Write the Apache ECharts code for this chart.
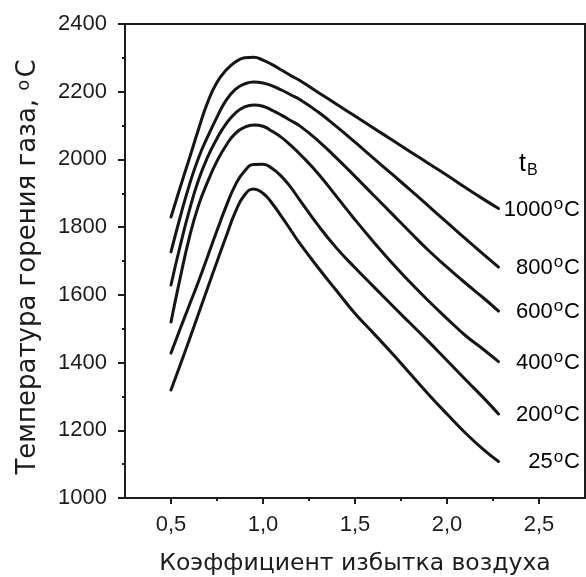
<!DOCTYPE html>
<html><head><meta charset="utf-8">
<script src="https://cdn.jsdelivr.net/npm/echarts@6/dist/echarts.min.js"></script>
<style>html,body{margin:0;padding:0;background:#fff}#c{width:586px;height:577px}</style>
</head><body><div id="c"></div>
<script>
// Air-excess coefficient (x values shared by every curve)
const xs = [0.5, 0.55, 0.6, 0.65, 0.7, 0.75, 0.8, 0.85, 0.9, 0.95, 1.0, 1.05, 1.1, 1.15, 1.2,
            1.3, 1.4, 1.5, 1.6, 1.7, 1.8, 1.9, 2.0, 2.1, 2.2, 2.28];
// Gas combustion temperature, °C, for each air preheat temperature t_B
const t1000 = [1830, 1918, 2003, 2090, 2170, 2228, 2264, 2288, 2300, 2302, 2293, 2280, 2264, 2248, 2233,
               2198, 2163, 2128, 2093, 2058, 2023, 1988, 1953, 1917, 1882, 1855];
const t800  = [1727, 1830, 1925, 2005, 2068, 2125, 2175, 2207, 2223, 2229, 2226, 2217, 2205, 2191, 2177,
               2140, 2097, 2051, 2004, 1957, 1910, 1862, 1814, 1766, 1719, 1682];
const t600  = [1629, 1745, 1850, 1940, 2008, 2062, 2106, 2137, 2155, 2161, 2157, 2145, 2131, 2115, 2099,
               2055, 2004, 1950, 1895, 1840, 1785, 1731, 1682, 1635, 1590, 1552];
const t400  = [1520, 1650, 1770, 1865, 1935, 1995, 2042, 2077, 2095, 2102, 2098, 2083, 2065, 2042, 2016,
               1958, 1890, 1822, 1757, 1695, 1637, 1582, 1530, 1480, 1438, 1403];
const t200  = [1428, 1500, 1570, 1640, 1715, 1790, 1862, 1925, 1966, 1985, 1986, 1973, 1950, 1918, 1880,
               1805, 1738, 1680, 1625, 1570, 1516, 1462, 1406, 1350, 1295, 1248];
const t25   = [1319, 1393, 1468, 1545, 1622, 1698, 1773, 1845, 1895, 1913, 1900, 1870, 1832, 1792, 1752,
               1680, 1612, 1545, 1487, 1428, 1367, 1306, 1248, 1192, 1142, 1108];
const curveLabels = ['1000', '800', '600', '400', '200', '25'];
const curves = [t1000, t800, t600, t400, t200, t25];
const xTickValues = [0.5, 1.0, 1.5, 2.0, 2.5];
const xMinorValues = [0.75, 1.25, 1.75, 2.25];

const FONT = 'Liberation Sans';
const TFONT = 'DejaVu Sans';
const INK = '#1c1c1c';
const chart = echarts.init(document.getElementById('c'), null, {renderer: 'canvas'});

const series = curves.map((vals, k) => ({
  name: curveLabels[k],
  type: 'line',
  smooth: 0.5,
  symbol: 'none',
  silent: true,
  data: xs.map((x, i) => [x, vals[i]]),
  lineStyle: {color: '#151515', width: 3, cap: 'round'}
}));

chart.setOption({
  animation: false,
  backgroundColor: '#fff',
  grid: {left: 125, right: 1, top: 24, bottom: 79, outerBoundsMode: 'none', containLabel: false,
    show: true, borderColor: INK, borderWidth: 2, backgroundColor: 'transparent'},
  xAxis: [{
    type: 'value', min: 0.25, max: 2.75,
    axisLine: {show: true, lineStyle: {color: INK, width: 2}},
    axisTick: {show: true, customValues: xTickValues, length: 6, lineStyle: {color: INK, width: 2}},
    axisLabel: {customValues: xTickValues, color: INK, fontFamily: FONT, fontSize: 22, margin: 16,
      formatter: v => v.toFixed(1).replace('.', ',')},
    splitLine: {show: false},
    name: 'Коэффициент избытка воздуха', nameLocation: 'middle', nameGap: 54,
    nameTextStyle: {color: INK, fontFamily: TFONT, fontSize: 23.5}
  }, {
    type: 'value', min: 0.25, max: 2.75, position: 'bottom',
    axisLine: {show: false},
    axisTick: {show: true, customValues: xMinorValues, length: 3, lineStyle: {color: INK, width: 2}},
    axisLabel: {show: false}, splitLine: {show: false}
  }],
  yAxis: {
    type: 'value', min: 1000, max: 2400, interval: 200,
    axisLine: {show: true, lineStyle: {color: INK, width: 2}},
    axisTick: {show: true, length: 7, lineStyle: {color: INK, width: 2}},
    minorTick: {show: true, splitNumber: 2, length: 3, lineStyle: {color: INK, width: 2}},
    axisLabel: {color: INK, fontFamily: FONT, fontSize: 22, margin: 18, formatter: v => String(v)},
    splitLine: {show: false},
    name: 'Температура горения газа, {s|o}C', nameLocation: 'middle', nameGap: 84,
    nameTextStyle: {color: INK, fontFamily: TFONT, fontSize: 26, padding: [0, 12, 0, 0],
      rich: {s: {fontFamily: TFONT, fontSize: 18, color: INK, verticalAlign: 'top', padding: [0, 2, 0, 0]}}}
  },
  series: series
});

// Right-hand curve labels, placed at each curve's last data point height
const rich = {
  n: {fontFamily: FONT, fontSize: 22, color: INK, lineHeight: 28},
  s: {fontFamily: FONT, fontSize: 17, color: INK, lineHeight: 28, verticalAlign: 'top', padding: [0, 1, 0, 1]}
};
const graphics = curves.map((vals, k) => {
  const p = chart.convertToPixel({xAxisIndex: 0, yAxisIndex: 0}, [xs[xs.length - 1], vals[vals.length - 1]]);
  return {
    type: 'text', x: 580, y: p[1] + 1,
    style: {text: '{n|' + curveLabels[k] + '}{s|o}{n|C}', rich: rich, align: 'right', verticalAlign: 'middle'}
  };
});
graphics.push({
  type: 'text', x: 519, y: 164,
  style: {text: '{t|t}{b|B}', align: 'left', verticalAlign: 'middle',
    rich: {t: {fontFamily: FONT, fontSize: 25, color: INK, lineHeight: 32},
           b: {fontFamily: FONT, fontSize: 16, color: INK, lineHeight: 32, verticalAlign: 'bottom', padding: [0, 0, 1, 1]}}}
});
chart.setOption({graphic: graphics});
</script>
</body></html>
